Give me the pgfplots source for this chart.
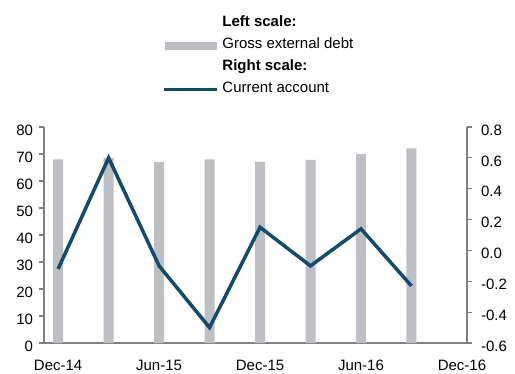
\documentclass[border=0pt]{standalone}
\usepackage{pgfplots}
\pgfplotsset{compat=1.18}
\usepackage{fontspec}
\setmainfont{Liberation Sans}
\definecolor{bargray}{RGB}{190,191,194}
\definecolor{lineblue}{RGB}{14,76,112}
\definecolor{axgray}{RGB}{128,128,128}
\pgfplotsset{
  every axis/.append style={font=\fontsize{15}{18}\selectfont},
  /pgf/number format/assume math mode=true,
  baseaxis/.style={
    scale only axis, width=423pt, height=216pt,
    xmin=-0.28, xmax=8.1,
    axis line style={axgray, line width=1.6pt},
    tick align=outside,
    major tick length=4.5pt,
    every tick/.style={axgray, line width=1.2pt},
  },
}
\begin{document}
\begin{tikzpicture}
\useasboundingbox (-44pt,-30pt) rectangle (471pt,343pt);
\begin{axis}[
  baseaxis,
  ybar, bar width=10pt,
  ymin=0, ymax=80, ytick={0,10,...,80},
  axis y line*=left, axis x line*=bottom,
  xtick={0,2,4,6,8},
  xticklabels={Dec-14,Jun-15,Dec-15,Jun-16,Dec-16},
  x tick style={draw=none},
  xticklabel style={yshift=-9pt},
  yticklabel style={xshift=-3pt, yshift=-3pt},
]
\addplot[fill=bargray, draw=none] coordinates {
  (0,68) (1,68.6) (2,67.1) (3,68) (4,67.1) (5,67.8) (6,70) (7,72.1)
};
\end{axis}
\begin{axis}[
  baseaxis,
  ymin=-0.6, ymax=0.8,
  ytick={-0.6,-0.4,-0.2,0,0.2,0.4,0.6,0.8},
  yticklabels={-0.6,-0.4,-0.2,0.0,0.2,0.4,0.6,0.8},
  axis y line*=right, axis x line=none,
  yticklabel style={xshift=6pt, yshift=-3pt},
  legend style={draw=none, fill=none, at={(0.279,1.515)}, anchor=north west,
    inner sep=0pt, row sep=7pt, column sep=4pt,
    nodes={inner sep=0pt, text height=11pt, text depth=4pt}},
  legend cell align=left,
]
\addlegendimage{empty legend}
\addlegendentry{\textbf{Left scale:}}
\addlegendimage{legend image code/.code={\fill[bargray] (0pt,-3.6pt) rectangle (51pt,3.6pt);}}
\addlegendentry{Gross external debt}
\addlegendimage{empty legend}
\addlegendentry{\textbf{Right scale:}}
\addplot[lineblue, line width=3.5pt, forget plot] coordinates {
  (0,-0.12) (1,0.6) (2,-0.1) (3,-0.5) (4,0.15) (5,-0.1) (6,0.14) (7,-0.23)
};
\addlegendimage{legend image code/.code={\draw[lineblue, line width=3.2pt] (-1pt,0pt) -- (52pt,0pt);}}
\addlegendentry{Current account}
\end{axis}
\end{tikzpicture}
\end{document}
